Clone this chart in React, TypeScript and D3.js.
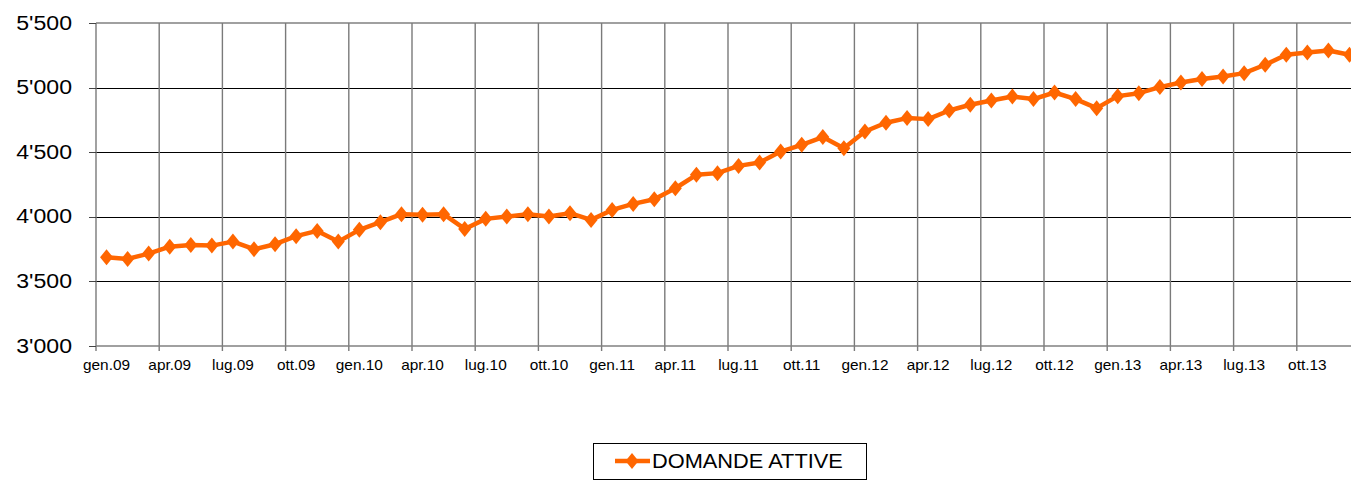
import React from 'react'
import * as d3 from 'd3'

// month abbreviations and years for the category axis
const monthNames = ['gen', 'feb', 'mar', 'apr', 'mag', 'giu', 'lug', 'ago', 'set', 'ott', 'nov', 'dic']
const years = ['09', '10', '11', '12', '13']
const categories = years.flatMap((y) => monthNames.map((m) => `${m}.${y}`))

const domandeAttive = [
  3687, 3674, 3715, 3769, 3782, 3777, 3808, 3749, 3788, 3850, 3891, 3808,
  3899, 3958, 4020, 4015, 4020, 3906, 3984, 4002, 4020, 4002, 4028, 3976,
  4053, 4100, 4136, 4221, 4325, 4338, 4394, 4420, 4505, 4557, 4617, 4531,
  4660, 4728, 4764, 4756, 4823, 4867, 4900, 4931, 4911, 4962, 4911, 4841,
  4934, 4957, 5004, 5040, 5066, 5086, 5112, 5177, 5254, 5272, 5287, 5254,
]

const yTicks = [3000, 3500, 4000, 4500, 5000, 5500]
const seriesName = 'DOMANDE ATTIVE'

const width = 1351
const height = 481
const margin = { left: 96, top: 23 }
const monthW = 63.2 / 3
const plotRight = margin.left + monthW * categories.length
const plotBottom = 346

const orange = '#ff6600'
const font = 'Arial, "Liberation Sans", sans-serif'

const fmt = (v) => d3.format(',')(v).replace(',', "'")
const crisp = (v) => Math.round(v) + 0.5

const diamond = (cx, cy, w = 6.5, h = 8) =>
  `M${cx},${cy - h}L${cx + w},${cy}L${cx},${cy + h}L${cx - w},${cy}Z`

const App = () => {
  const x = d3.scaleBand().domain(categories).range([margin.left, plotRight]).padding(0)
  const y = d3.scaleLinear().domain([3000, 5500]).range([plotBottom, margin.top])
  const cx = (d) => x(d) + x.bandwidth() / 2

  const pts = categories.map((c, i) => ({ c, v: domandeAttive[i] }))
  const line = d3
    .line()
    .x((d) => cx(d.c))
    .y((d) => y(d.v))

  // quarter boundaries for vertical gridlines
  const quarters = d3.range(0, categories.length + 1, 3).map((i) => margin.left + i * monthW)
  const labelled = categories.filter((_, i) => i % 3 === 0)

  return (
    <div style={{ position: 'absolute', left: 0, top: 0 }}>
      <svg width={width} height={height} style={{ display: 'block', overflow: 'hidden' }}>
        <rect width={width} height={height} fill="#fff" />
        {/* horizontal gridlines */}
        {yTicks.slice(1, -1).map((t) => (
          <line key={t} x1={margin.left} x2={plotRight} y1={crisp(y(t))} y2={crisp(y(t))} stroke="#000" strokeWidth={1} />
        ))}
        <line x1={margin.left} x2={plotRight} y1={y(5500)} y2={y(5500)} stroke="#808080" strokeWidth={1.5} />
        {/* vertical gridlines */}
        {quarters.map((qx, i) => (
          <line key={i} x1={qx} x2={qx} y1={margin.top} y2={plotBottom + 5} stroke="#7a7a7a" strokeWidth={1.4} />
        ))}
        <line x1={margin.left} x2={plotRight} y1={plotBottom} y2={plotBottom} stroke="#808080" strokeWidth={1.5} />
        {/* y ticks and labels */}
        {yTicks.map((t) => (
          <g key={t}>
            <line x1={89} x2={margin.left} y1={crisp(y(t))} y2={crisp(y(t))} stroke="#444" strokeWidth={1} />
            <text
              transform={`translate(72,${y(t) + 1}) scale(1.1,1)`}
              textAnchor="end"
              dominantBaseline="middle"
              fontFamily={font}
              fontSize={21}
              fill="#000"
            >
              {fmt(t)}
            </text>
          </g>
        ))}
        {/* x labels */}
        {labelled.map((c) => (
          <text
            key={c}
            transform={`translate(${cx(c)},370) scale(1.1,1)`}
            textAnchor="middle"
            fontFamily={font}
            fontSize={14}
            fill="#000"
          >
            {c}
          </text>
        ))}
        {/* series */}
        <path d={line(pts)} fill="none" stroke={orange} strokeWidth={4.5} strokeLinejoin="round" />
        {pts.map((d) => (
          <path key={d.c} d={diamond(cx(d.c), y(d.v))} fill={orange} />
        ))}
        {/* legend */}
        <rect x={593.5} y={443.5} width={273} height={36} fill="#fff" stroke="#000" strokeWidth={1} />
        <line x1={615} x2={650} y1={461} y2={461} stroke={orange} strokeWidth={4.5} />
        <path d={diamond(632, 461)} fill={orange} />
        <text
          transform="translate(652,468) scale(1.09,1)"
          fontFamily={font}
          fontSize={20}
          fill="#000"
        >
          {seriesName}
        </text>
      </svg>
    </div>
  )
}

export default App
